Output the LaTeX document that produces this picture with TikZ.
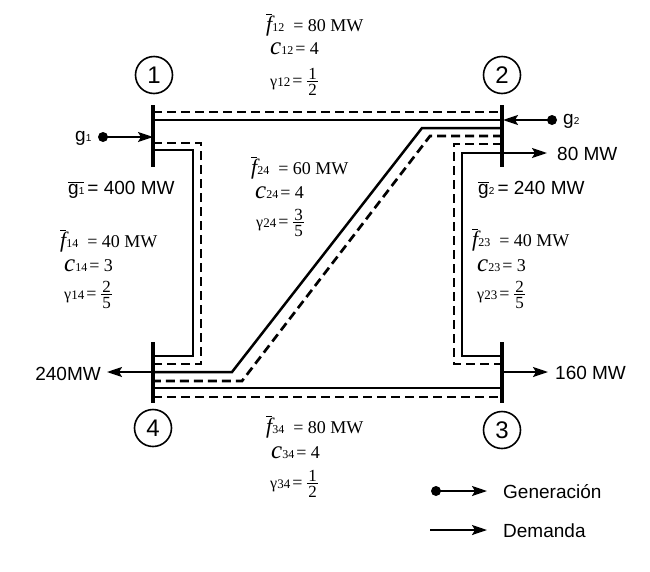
\documentclass[tikz,border=0pt]{standalone}
\usepackage{fontspec}
\setmainfont{Liberation Serif}
\newfontfamily\sansf{Liberation Sans}
\usetikzlibrary{arrows.meta}
\newcommand\smsub[1]{{\fontsize{12}{12}\selectfont #1}}
\newcommand\ssub[1]{{\fontsize{10}{10}\selectfont #1}}
\newcommand\myfrac[2]{$\vcenter{\offinterlineskip\fontsize{17}{17}\selectfont
  \halign{\hfil\kern1.5pt##\kern1.5pt\hfil\cr
  \vrule height 12pt depth 1pt width 0pt #1\cr
  \noalign{\kern1pt\hrule height 1pt\kern1.5pt}
  \vrule height 12pt depth 0pt width 0pt #2\cr}}$}
\newcommand\flab[2]{$\overline{\hbox{\fontsize{22}{22}\selectfont\itshape f}}$\smsub{#1}\hspace{9pt}= #2}
\newcommand\clab[2]{{\fontsize{25}{25}\selectfont\itshape c}\smsub{#1}\hspace{2pt}= #2}
\newcommand\glab[3]{{\fontsize{16}{16}\selectfont γ}{\fontsize{13}{13}\selectfont #1}\hspace{2pt}= \myfrac{#2}{#3}}
\tikzset{
  solidln/.style={line width=2.5pt},
  dashln/.style={line width=2.7pt, dash pattern=on 9pt off 5pt},
  busbar/.style={line width=3.2pt},
  busnum/.style={circle, draw, line width=1.6pt, minimum size=37pt, inner sep=0pt, font=\sansf\fontsize{24}{24}\selectfont},
  arr/.style={line width=2pt, -{Stealth[length=15pt,width=10pt,inset=3pt]}},
  gdot/.style={circle, fill, minimum size=10pt, inner sep=0pt},
  serlab/.style={anchor=base west, inner sep=0pt, font=\fontsize{18}{20}\selectfont},
  sanslab/.style={anchor=base west, inner sep=0pt, font=\sansf\fontsize{19}{21}\selectfont},
}
\begin{document}
\begin{tikzpicture}[x=1pt,y=-1pt]
\useasboundingbox (0,0) rectangle (650,571);
% bus bars
\coordinate (b1t) at (153,105); \coordinate (b1b) at (153,167);
\coordinate (b2t) at (502,105); \coordinate (b2b) at (502,167);
\coordinate (b3t) at (502,342); \coordinate (b3b) at (502,403);
\coordinate (b4t) at (153,342); \coordinate (b4b) at (153,403);
\draw[busbar] (b1t) -- (b1b);
\draw[busbar] (b2t) -- (b2b);
\draw[busbar] (b3t) -- (b3b);
\draw[busbar] (b4t) -- (b4b);
\node[busnum] (n1) at (154,75) {1};
\node[busnum] (n2) at (502,75) {2};
\node[busnum] (n3) at (502,430) {3};
\node[busnum] (n4) at (153,428) {4};
% line 1-2
\coordinate (s12a) at (153,120); \coordinate (s12b) at (502,120);
\coordinate (d12a) at (153,112); \coordinate (d12b) at (502,112);
\draw[solidln] (s12a) -- (s12b);
\draw[dashln] (d12a) -- (d12b);
% line 1-4
\coordinate (s14a) at (153,150); \coordinate (s14c1) at (193,150);
\coordinate (s14c2) at (193,356); \coordinate (s14b) at (153,356);
\coordinate (d14a) at (153,143); \coordinate (d14c1) at (201,143);
\coordinate (d14c2) at (201,364); \coordinate (d14b) at (153,364);
\draw[solidln] (s14a) -- (s14c1) -- (s14c2) -- (s14b);
\draw[dashln] (d14a) -- (d14c1) -- (d14c2) -- (d14b);
% line 2-4
\coordinate (s24a) at (502,128); \coordinate (s24c1) at (422,128);
\coordinate (s24c2) at (232,372); \coordinate (s24b) at (153,372);
\coordinate (d24a) at (502,136); \coordinate (d24c1) at (430,136);
\coordinate (d24c2) at (242,381); \coordinate (d24b) at (153,381);
\draw[solidln] (s24a) -- (s24c1) -- (s24c2) -- (s24b);
\draw[dashln] (d24a) -- (d24c1) -- (d24c2) -- (d24b);
% line 2-3
\coordinate (s23a) at (502,153); \coordinate (s23c1) at (462,153);
\coordinate (s23c2) at (462,356); \coordinate (s23b) at (502,356);
\coordinate (d23a) at (502,144); \coordinate (d23c1) at (454,144);
\coordinate (d23c2) at (454,364); \coordinate (d23b) at (502,364);
\draw[solidln] (s23a) -- (s23c1) -- (s23c2) -- (s23b);
\draw[dashln] (d23a) -- (d23c1) -- (d23c2) -- (d23b);
% line 3-4
\coordinate (s34a) at (153,388); \coordinate (s34b) at (502,388);
\coordinate (d34a) at (153,397); \coordinate (d34b) at (502,397);
\draw[solidln] (s34a) -- (s34b);
\draw[dashln] (d34a) -- (d34b);
% injections
\node[gdot] (g1d) at (103,137) {};
\coordinate (g1e) at (153,137);
\draw[arr] (g1d.center) -- (g1e);
\node[sanslab] (g1l) at (75,141) {g\ssub{1}};
\node[gdot] (g2d) at (552,120) {};
\coordinate (g2e) at (503,120);
\draw[arr] (g2d.center) -- (g2e);
\node[sanslab] (g2l) at (563,124) {g\ssub{2}};
\coordinate (d2s) at (503,153); \coordinate (d2e) at (547,153);
\draw[arr] (d2s) -- (d2e);
\node[sanslab] (d2l) at (557,160) {80 MW};
\coordinate (d3s) at (503,372); \coordinate (d3e) at (548,372);
\draw[arr] (d3s) -- (d3e);
\node[sanslab] (d3l) at (555,379) {160 MW};
\coordinate (d4s) at (152,372); \coordinate (d4e) at (107,372);
\draw[arr] (d4s) -- (d4e);
\node[sanslab, anchor=base east] (d4l) at (101,380) {240MW};
% generator limits
\node[sanslab] (gm1) at (68,194) {$\overline{\hbox{\sansf g\ssub{1}}}$\,= 400 MW};
\node[sanslab] (gm2) at (478,194) {$\overline{\hbox{\sansf g}}$\ssub{2}\,= 240 MW};
% line parameters
\node[serlab] (f12) at (266,31) {\flab{12}{80 MW}};
\node[serlab] (c12) at (270,54) {\clab{12}{4}};
\node[serlab] (y12) at (270,86) {\glab{12}{1}{2}};
\node[serlab] (f24) at (251,174) {\flab{24}{60 MW}};
\node[serlab] (c24) at (255,198) {\clab{24}{4}};
\node[serlab] (y24) at (256,227) {\glab{24}{3}{5}};
\node[serlab] (f14) at (60,247) {\flab{14}{40 MW}};
\node[serlab] (c14) at (64,271) {\clab{14}{3}};
\node[serlab] (y14) at (64,299) {\glab{14}{2}{5}};
\node[serlab] (f23) at (472,246) {\flab{23}{40 MW}};
\node[serlab] (c23) at (477,271) {\clab{23}{3}};
\node[serlab] (y23) at (477,299) {\glab{23}{2}{5}};
\node[serlab] (f34) at (266,433) {\flab{34}{80 MW}};
\node[serlab] (c34) at (271,458) {\clab{34}{4}};
\node[serlab] (y34) at (270,488) {\glab{34}{1}{2}};
% legend
\node[gdot] (lgd) at (436,491) {};
\coordinate (lge) at (487,491);
\draw[arr] (lgd.center) -- (lge);
\node[sanslab] (lgl) at (503,498) {Generación};
\coordinate (lds) at (430,530); \coordinate (lde) at (487,530);
\draw[arr] (lds) -- (lde);
\node[sanslab] (ldl) at (503,537) {Demanda};
\end{tikzpicture}
\end{document}
